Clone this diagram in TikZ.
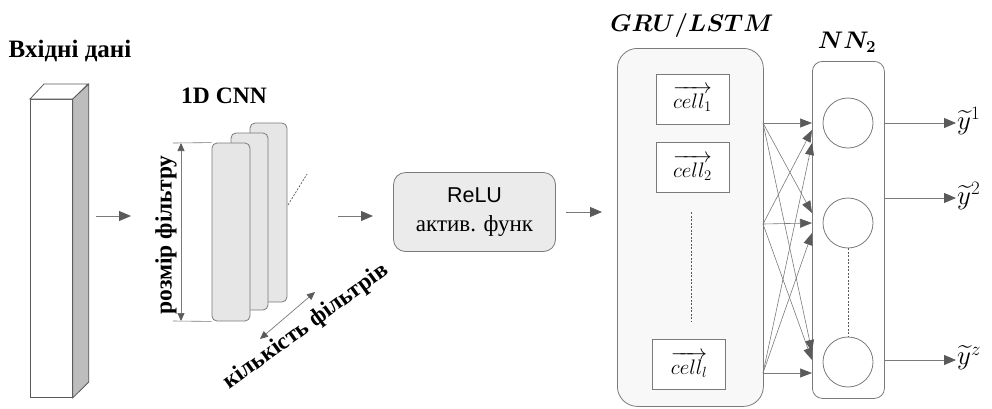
\RequirePackage{fix-cm}
\documentclass[tikz,border=0pt]{standalone}
\usepackage{amsmath}
\usepackage{bm}
\usepackage{fontspec}
\setmainfont{Liberation Serif}
\newfontfamily\relufont{Liberation Sans}
\usetikzlibrary{arrows.meta}

\definecolor{linec}{HTML}{7A7A7A}
\definecolor{tipc}{HTML}{5A5A5A}
\definecolor{filtc}{HTML}{E6E6E6}
\definecolor{reluc}{HTML}{EBEBEB}
\definecolor{grubg}{HTML}{F8F8F8}
\definecolor{sidec}{HTML}{BDBDBD}

\tikzset{
  thinline/.style={draw=linec, line width=0.8pt},
  flowarrow/.style={draw=linec, line width=0.8pt,
    -{Triangle[length=12pt,width=10pt,fill=tipc,color=tipc]}},
  crossarrow/.style={draw=linec, line width=0.6pt,
    -{Triangle[length=12pt,width=9pt,fill=tipc,color=tipc]}},
  dimarrow/.style={draw=linec, line width=0.7pt,
    {Triangle[length=8pt,width=7pt,fill=tipc,color=tipc]}-{Triangle[length=8pt,width=7pt,fill=tipc,color=tipc]}},
  filterbox/.style={draw=linec, line width=0.8pt, fill=filtc, rounded corners=5pt,
    minimum width=37pt, inner sep=0pt},
  cellbox/.style={draw=linec, line width=0.8pt, fill=white, inner sep=0pt,
    minimum width=73pt, minimum height=50pt, font=\fontsize{21}{24}\selectfont},
  neuron/.style={circle, draw=linec, line width=0.8pt, fill=white, minimum size=50pt, inner sep=0pt},
  boldlabel/.style={font=\fontsize{23.5}{28}\selectfont\bfseries, inner sep=0pt},
  mathlabel/.style={font=\fontsize{24}{28}\selectfont, inner sep=0pt},
  outlabel/.style={font=\fontsize{27}{30}\selectfont, inner sep=0pt, anchor=west},
}

\begin{document}
\begin{tikzpicture}[x=1pt,y=-1pt]
\useasboundingbox (0,0) rectangle (992,408);

% input column drawn as a prism
\node[boldlabel, font=\fontsize{25}{28}\selectfont\bfseries] (inlabel) at (70,51) {Вхідні дані};
\node[draw=tipc, line width=0.8pt, fill=white, minimum width=42pt, minimum height=298pt,
      inner sep=0pt, anchor=north west] (input) at (30,99) {};
\draw[draw=tipc, line width=0.8pt, fill=white]
  (input.north west) -- ++(14,-15) -- ++(44,0) -- (input.north east) -- cycle;
\draw[draw=tipc, line width=0.8pt, fill=sidec]
  (input.north east) -- ++(16,-15) -- ++(0,298) -- (input.south east) -- cycle;

\coordinate (a1s) at (96,216);
\coordinate (a1e) at (131,216);
\draw[flowarrow] (a1s) -- (a1e);

% convolution filters
\node[boldlabel] (cnnlabel) at (224,96) {1D CNN};
\node[filterbox, minimum height=179pt] (f3) at (268.5,212.5) {};
\node[filterbox, minimum height=177pt] (f2) at (249.5,221.5) {};
\node[filterbox, minimum width=38pt, minimum height=178pt] (f1) at (231,232) {};

\coordinate (dimtop) at (173,143);
\coordinate (dimbot) at (173,321);
\draw[thinline, line width=0.6pt] (dimtop) -- (f1.north west);
\draw[thinline, line width=0.6pt] (dimbot) -- (f1.south west);
\coordinate (datop) at (181,143);
\coordinate (dabot) at (181,321);
\draw[dimarrow] (datop) -- (dabot);
\node[boldlabel] [rotate=90] (sizelabel) at (166,235) {розмір фільтру};

\coordinate (dots) at (288,205);
\coordinate (dote) at (307,174);
\draw[draw=tipc, line width=0.7pt, dash pattern=on 2pt off 1.5pt] (dots) -- (dote);

\coordinate (cnts) at (260,339);
\coordinate (cnte) at (315,292);
\draw[dimarrow] (cnts) -- (cnte);
\node[boldlabel] [rotate=36] (countlabel) at (306,327) {кількість фільтрів};

\coordinate (a2s) at (338,216);
\coordinate (a2e) at (373,216);
\draw[flowarrow] (a2s) -- (a2e);

% activation
\node[draw=linec, line width=0.8pt, fill=reluc, rounded corners=12pt,
      minimum width=162pt, minimum height=79pt, inner sep=0pt, align=center,
      font=\fontsize{23}{29}\selectfont]
  (relu) at (474.5,212)
  {{\relufont\fontsize{21.5}{29}\selectfont ReLU}\\ актив. функ};

\coordinate (a3s) at (566,212);
\coordinate (a3e) at (602,212);
\draw[flowarrow] (a3s) -- (a3e);

% recurrent block
\node[mathlabel] (grulabel) at (692,25) {$\bm{GRU/LSTM}$};
\node[draw=linec, line width=0.8pt, fill=grubg, rounded corners=20pt,
      minimum width=146pt, minimum height=358pt, inner sep=0pt, anchor=north west]
  (gru) at (617,48) {};
\node[cellbox] (c1) at (692.5,99) {$\overrightarrow{cell_1}$};
\node[cellbox] (c2) at (692.5,167.5) {$\overrightarrow{cell_2}$};
\node[cellbox] (cl) at (689,364.5) {$\overrightarrow{cell_l}$};
\coordinate (gdots) at (691,212);
\coordinate (gdote) at (691,322);
\draw[draw=tipc, line width=0.7pt, dash pattern=on 2pt off 1.5pt] (gdots) -- (gdote);

% output layer
\node[mathlabel] (nnlabel) at (847,42) {$\bm{NN_2}$};
\node[draw=linec, line width=0.8pt, fill=white, rounded corners=10pt,
      minimum width=72pt, minimum height=337pt, inner sep=0pt, anchor=north west]
  (nn) at (812,61) {};
\node[neuron] (n1) at (848,123) {};
\node[neuron] (n2) at (848,223) {};
\node[neuron] (n3) at (848,362) {};
\draw[draw=tipc, line width=0.7pt, dash pattern=on 2pt off 1.5pt] (n2.south) -- (n3.north);

% full connections between the blocks
\coordinate (s1) at (763,123);
\coordinate (s2) at (763,224);
\coordinate (s3) at (763,373);
\coordinate (t11) at (812,123);
\coordinate (t21) at (812,130);
\coordinate (t31) at (812,143);
\coordinate (t12) at (812,213);
\coordinate (t22) at (812,223);
\coordinate (t32) at (812,233);
\coordinate (t13) at (812,352);
\coordinate (t23) at (812,360);
\coordinate (t33) at (812,373);
\foreach \s/\t in {s1/t11,s1/t12,s1/t13,s2/t21,s2/t22,s2/t23,s3/t31,s3/t32,s3/t33}
  \draw[crossarrow] (\s) -- (\t);

% outputs
\coordinate (o1s) at (885,123);
\coordinate (o1e) at (956,123);
\coordinate (o2s) at (885,198);
\coordinate (o2e) at (956,198);
\coordinate (o3s) at (885,360);
\coordinate (o3e) at (956,360);
\draw[flowarrow] (o1s) -- (o1e);
\draw[flowarrow] (o2s) -- (o2e);
\draw[flowarrow] (o3s) -- (o3e);
\node[outlabel] (y1) at (957,121) {$\widetilde{y}^1$};
\node[outlabel] (y2) at (957,196) {$\widetilde{y}^2$};
\node[outlabel] (y3) at (957,358) {$\widetilde{y}^z$};
\end{tikzpicture}
\end{document}
